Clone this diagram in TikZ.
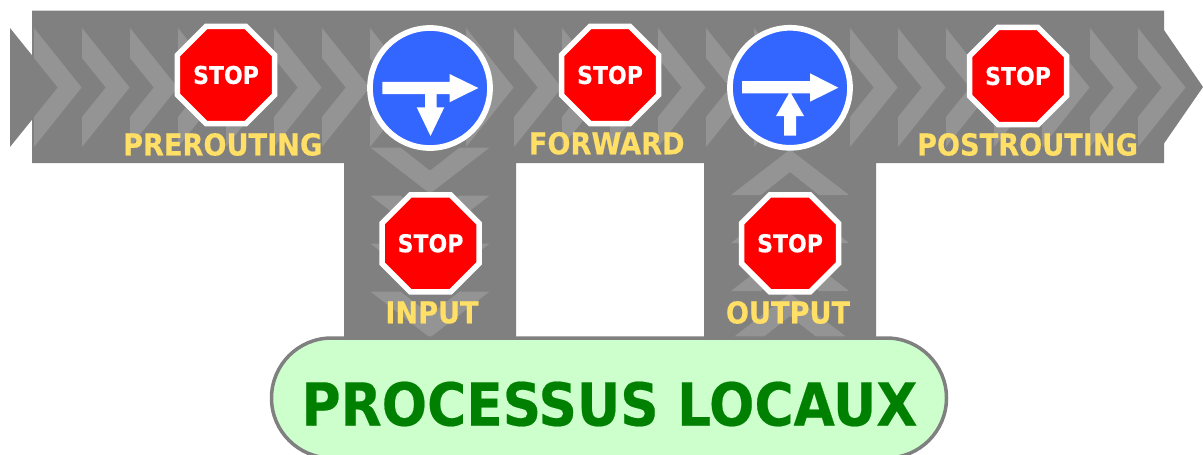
\documentclass[tikz,border=0pt]{standalone}
\usepackage{fontspec}
\setmainfont{DejaVu Sans Condensed}[BoldFont={DejaVu Sans Condensed Bold},BoldFeatures={FakeBold=0.35}]
\usetikzlibrary{shapes.geometric}
\definecolor{bandgray}{HTML}{808080}
\definecolor{signblue}{HTML}{3366FF}
\definecolor{labelyellow}{HTML}{FFDF66}
\definecolor{boxgreen}{HTML}{CCFFCC}
\definecolor{textgreen}{HTML}{008000}
\tikzset{
  chevron/.style={fill=white,fill opacity=.16},
  stopsign/.style={regular polygon,regular polygon sides=8,minimum size=105pt,inner sep=0pt,outer sep=0pt,
    fill=red,draw=white,line width=5.5pt,text=white,font=\bfseries\fontsize{24.5}{24.5}\selectfont},
  roundsign/.style={circle,minimum size=120pt,inner sep=0pt,outer sep=0pt,fill=signblue,draw=white,line width=5.7pt},
  hooklabel/.style={text=labelyellow,inner sep=0pt,font=\bfseries\fontsize{30.2}{31}\selectfont},
  glyph/.style={fill=white},
}
\begin{document}
\begin{tikzpicture}[x=1pt,y=-1pt]
\useasboundingbox (0,0) rectangle (1203,455);
% band
\fill[bandgray] (32,10.6)--(1164,10.6)--(1164,163)--(876,163)--(876,342)--(704,342)--(704,163)--(516,163)--(516,342)--(344,342)--(344,163)--(32,163)--cycle;
\fill[bandgray] (10,28)--(58,87.5)--(10,147)--cycle;
\fill[bandgray] (1164,30)--(1203,87)--(1164,143.5)--cycle;
% horizontal chevrons
\foreach \k in {0,...,23}{
  \pgfmathsetmacro{\xx}{34+48*\k}
  \fill[chevron] (\xx,28)--(\xx+47.6,87.5)--(\xx,147)--(\xx,117)--(\xx+23.8,87.5)--(\xx,58)--cycle;
}
% vertical chevrons
\foreach \yy in {147.6,195.6,243.6,291.6}{
  \fill[chevron] (370.5,\yy)--(400.5,\yy)--(430,\yy+23)--(459.5,\yy)--(489.5,\yy)--(430,\yy+46)--cycle;
}
\foreach \yy in {195,243,291,339}{
  \fill[chevron] (731,\yy)--(761,\yy)--(790,\yy-23)--(819,\yy)--(849,\yy)--(790,\yy-45.5)--cycle;
}
% stop signs
\node[stopsign] (s1) at (226,75) {STOP};
\node[stopsign] (s2) at (610,75) {STOP};
\node[stopsign] (s3) at (1018,76) {STOP};
\node[stopsign] (s4) at (430.5,243.3) {STOP};
\node[stopsign] (s5) at (790,243.3) {STOP};
% round signs
\node[roundsign] (c1) at (430,88) {};
\node[roundsign] (c2) at (790,87.8) {};
\fill[glyph] (382.3,81.8)--(449.5,81.8)--(449.5,74)--(478.3,88)--(449.5,102.3)--(449.5,94)--(436.7,94)--(436.7,107.3)--(444.3,107.3)--(430.5,136)--(416.7,107.3)--(425,107.3)--(425,94)--(382.3,94)--cycle;
\fill[glyph] (742,81)--(810,81)--(810,73.3)--(838.3,87.7)--(810,101.7)--(810,93.3)--(791,93.3)--(804,116)--(796,116)--(796,135.7)--(784,135.7)--(784,116)--(776,116)--(789,93.3)--(742,93.3)--cycle;
% labels
\node[hooklabel] (l1) at (222.7,144.5) {PREROUTING};
\node[hooklabel] (l2) at (606.7,143.3) {FORWARD};
\node[hooklabel] (l3) at (1027.5,144.5) {POSTROUTING};
\node[hooklabel] (l4) at (432,312.5) {INPUT};
\node[hooklabel] (l5) at (788,312.5) {OUTPUT};
% local processes
\node[draw=bandgray,fill=boxgreen,line width=3.5pt,rounded corners=60pt,minimum width=675pt,minimum height=120pt,inner sep=0pt,outer sep=0pt] (p) at (609,398) {};
\node[text=textgreen,inner sep=0pt,font=\bfseries\fontsize{59.3}{60}\selectfont] (pt) at (609.5,404) {PROCESSUS LOCAUX};
\end{tikzpicture}
\end{document}
